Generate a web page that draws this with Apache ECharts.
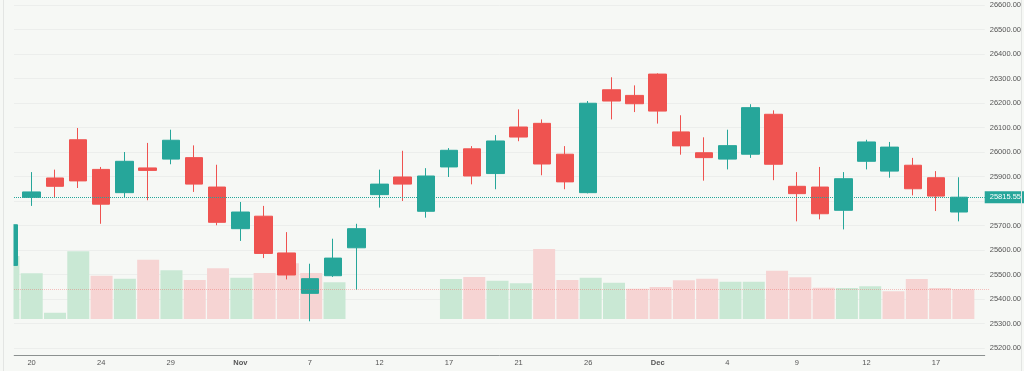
<!DOCTYPE html>
<html>
<head>
<meta charset="utf-8">
<script src="https://cdn.jsdelivr.net/npm/echarts@6/dist/echarts.min.js"></script>
<style>
html,body{margin:0;padding:0;background:#f6f8f5;}
#c{width:1024px;height:371px;}
</style>
</head>
<body>
<div id="c"></div>
<script>
// ---- data (first entry is the partially visible candle at the left edge) ----
const dates = ["2025-10-17","2025-10-20","2025-10-21","2025-10-23","2025-10-24","2025-10-27","2025-10-28","2025-10-29","2025-10-30","2025-10-31",
  "2025-11-03","2025-11-04","2025-11-06","2025-11-07","2025-11-10","2025-11-11","2025-11-12","2025-11-13","2025-11-14","2025-11-17",
  "2025-11-19","2025-11-20","2025-11-21","2025-11-24","2025-11-25","2025-11-26","2025-11-27","2025-11-28","2025-12-01","2025-12-02",
  "2025-12-03","2025-12-04","2025-12-05","2025-12-08","2025-12-09","2025-12-10","2025-12-11","2025-12-12","2025-12-15","2025-12-16",
  "2025-12-17","2025-12-18"];
const openP  = [25537,25815,25894,26050,25929,25834,25935,25971,25977,25857,25687,25738,25588,25423,25495,25609,25826,25898,25758,25939,26013,25912,26102,26117,25991,25834,26254,26231,26318,26082,25997,25971,25991,26154,25860,25857,25762,25962,25922,25946,25895,25755];
const closeP = [25703,25837,25860,25882,25787,25962,25925,26048,25869,25713,25755,25586,25498,25483,25567,25687,25869,25869,25902,26007,25902,26045,26061,25951,25878,26199,26208,26197,26167,26025,25977,26026,26181,25950,25830,25748,25891,26041,26020,25850,25820,25815.55];
const lowP   = [25526,25780,25816,25853,25707,25816,25803,25950,25837,25701,25637,25567,25480,25309,25490,25438,25773,25800,25732,25898,25868,25848,26044,25905,25848,25831,26133,26163,26116,25989,25883,25929,25976,25885,25717,25725,25684,25929,25895,25823,25759,25717];
const highP  = [25716,25918,25928,26098,25939,26000,26037,26091,26027,25948,25796,25780,25673,25544,25646,25707,25928,26005,25934,26016,26024,26069,26174,26133,26024,26208,26305,26272,26321,26150,26060,26091,26195,26170,25918,25939,25918,26050,26041,25976,25922,25897];
const volume = [252,183,25,271,173,161,237,195,156,203,165,184,223,184,147,null,null,null,null,160,168,153,143,280,156,165,145,121,128,155,161,149,149,193,167,125,124,131,111,160,124,119];
const tickIndex  = [1,4,7,10,13,16,19,22,25,28,31,34,37,40];
const tickLabels = ["20","24","29","Nov","7","12","17","21","26","Dec","4","9","12","17"];
const lastPrice = 25815.55;

// ---- build ----
const UP = '#26a69a', DOWN = '#ef5350';
const VOL_UP = '#c9e8d4', VOL_DOWN = '#f6d4d3';
const BG = '#f6f8f5';
const xVal = i => i - 1;          // x position of candle i (first candle sits left of the visible area)
const labelMap = {};
tickIndex.forEach((t, k) => { labelMap[xVal(t)] = tickLabels[k]; });

const candleData = dates.map((d, i) => [xVal(i), openP[i], closeP[i], lowP[i], highP[i]]);
const volData = [];
volume.forEach((v, i) => {
  if (v == null) return;
  const prev = i === 0 ? openP[0] : closeP[i - 1];
  volData.push({ value: [xVal(i), v], itemStyle: { color: closeP[i] >= prev ? VOL_UP : VOL_DOWN } });
});

const FONT = 'Liberation Sans, Arial, sans-serif';
const GRID_LEFT = 14;
const chart = echarts.init(document.getElementById('c'), null, { renderer: 'canvas' });
chart.setOption({
  animation: false,
  backgroundColor: BG,
  grid: [
    { left: GRID_LEFT, right: 35, top: 5, bottom: 23 },
    { left: GRID_LEFT, right: 35, top: 219, bottom: 52 }
  ],
  xAxis: [
    {
      type: 'value', gridIndex: 0, min: -0.76, max: 41.1, offset: 7,
      axisLine: { show: true, lineStyle: { color: '#8c9190', width: 1 } },
      axisTick: { show: false },
      splitLine: { show: false },
      axisLabel: {
        customValues: tickIndex.map(xVal),
        formatter: v => {
          const s = labelMap[v] || '';
          return /^\d+$/.test(s) ? s : '{m|' + s + '}';
        },
        fontSize: 7.5, color: '#555', margin: 4, fontFamily: FONT,
        rich: { m: { fontSize: 7.5, fontWeight: 'bold', color: '#555', fontFamily: FONT } }
      }
    },
    { type: 'value', gridIndex: 1, min: -0.76, max: 41.1, show: false }
  ],
  yAxis: [
    {
      type: 'value', gridIndex: 0, position: 'right', min: 25200, max: 26600, interval: 100,
      axisLine: { show: false }, axisTick: { show: false },
      splitLine: { show: true, lineStyle: { color: '#eceeec', width: 1 } },
      axisLabel: {
        formatter: v => Math.abs(v - lastPrice) < 50 ? '' : v.toFixed(2),
        fontSize: 7.5, color: '#555', margin: 5, fontFamily: FONT
      }
    },
    { type: 'value', gridIndex: 1, min: 0, max: 400, show: false }
  ],
  series: [
    {
      type: 'bar', xAxisIndex: 1, yAxisIndex: 1, data: volData, barWidth: 22, clip: true,
      markLine: {
        silent: true, symbol: ['none', 'none'], animation: false,
        data: [{ yAxis: volume[volume.length - 1] }],
        lineStyle: { color: 'rgba(239,83,80,0.35)', type: 'dotted', width: 1 },
        label: { show: false }
      }
    },
    {
      type: 'candlestick', xAxisIndex: 0, yAxisIndex: 0, data: candleData, clip: true,
      encode: { x: 0, y: [1, 2, 3, 4] },
      barWidth: 18,
      itemStyle: { color: UP, color0: DOWN, borderColor: UP, borderColor0: DOWN, borderWidth: 1 },
      markLine: {
        silent: true, symbol: ['none', 'none'], animation: false,
        data: [{ yAxis: lastPrice }],
        lineStyle: { color: UP, type: 'dotted', width: 1 },
        label: {
          show: true, position: 'end', distance: 0,
          formatter: p => Number(p.value).toFixed(2),
          backgroundColor: UP, color: '#fff', fontSize: 7.5, fontFamily: FONT,
          padding: [2, 4, 2, 5]
        }
      }
    }
  ],
  graphic: [
    // mask: hides the part of the first candle that lies left of the plot area
    { type: 'rect', silent: true, z: 100, shape: { x: 0, y: 0, width: GRID_LEFT - 0.5, height: 371 }, style: { fill: BG } },
    { type: 'line', silent: true, z: 101, shape: { x1: 3.5, y1: 0, x2: 3.5, y2: 371 }, style: { stroke: '#e3e5e3', lineWidth: 1 } },
    { type: 'line', silent: true, z: 101, shape: { x1: 1021.5, y1: 0, x2: 1021.5, y2: 371 }, style: { stroke: '#e3e5e3', lineWidth: 1 } }
  ]
});
</script>
</body>
</html>
